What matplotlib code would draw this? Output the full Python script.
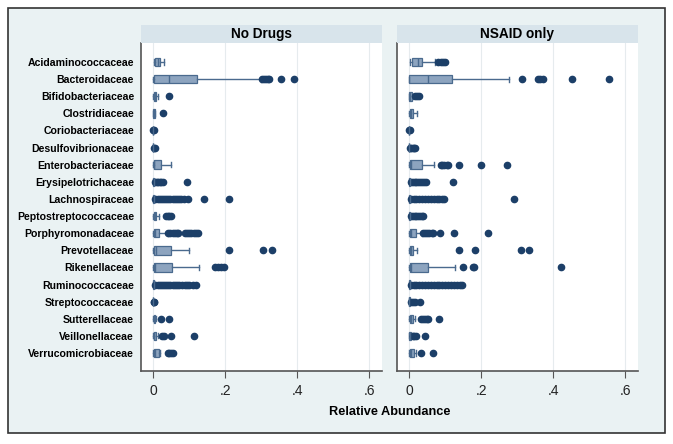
import matplotlib
matplotlib.use("Agg")
import matplotlib.pyplot as plt
from matplotlib.patches import Rectangle

plt.rcParams["font.family"] = ["Liberation Sans", "DejaVu Sans"]

categories = [
    "Acidaminococcaceae", "Bacteroidaceae", "Bifidobacteriaceae", "Clostridiaceae",
    "Coriobacteriaceae", "Desulfovibrionaceae", "Enterobacteriaceae",
    "Erysipelotrichaceae", "Lachnospiraceae", "Peptostreptococcaceae",
    "Porphyromonadaceae", "Prevotellaceae", "Rikenellaceae", "Ruminococcaceae",
    "Streptococcaceae", "Sutterellaceae", "Veillonellaceae", "Verrucomicrobiaceae",
]
panels = ["No Drugs", "NSAID only"]

# No Drugs: lower whisker, q1, median, q3, upper whisker, outliers
nd_wlo = [0.001, 0, 0, 0, 0, 0, 0, 0, 0, 0, 0, 0, 0, 0, 0, 0, 0, 0]
nd_q1 = [0.005, 0.003, 0.001, 0.0005, 0, 0, 0.001, 0, 0, 0.001, 0.001, 0.003, 0.003, 0, 0, 0.001, 0.001, 0.001]
nd_med = [0.012, 0.044, 0.004, 0.002, 0, 0, 0.003, 0.001, 0.001, 0.004, 0.005, 0.008, 0.005, 0.001, 0, 0.002, 0.002, 0.004]
nd_q3 = [0.018, 0.123, 0.008, 0.004, 0, 0, 0.021, 0.002, 0.002, 0.008, 0.016, 0.05, 0.053, 0.002, 0, 0.005, 0.008, 0.015]
nd_whi = [0.030, 0.300, 0.012, 0.006, 0, 0, 0.049, 0.004, 0.004, 0.015, 0.040, 0.100, 0.128, 0.004, 0, 0.008, 0.012, 0.018]
nd_out = [
    [],
    [0.302, 0.308, 0.313, 0.318, 0.323, 0.355, 0.392],
    [0.045],
    [0.027],
    [0.0, 0.001],
    [0.002, 0.004],
    [],
    [0.006, 0.010, 0.014, 0.018, 0.022, 0.026, 0.094],
    [0.006, 0.012, 0.018, 0.024, 0.030, 0.036, 0.042, 0.048, 0.054, 0.060,
     0.066, 0.072, 0.078, 0.086, 0.097, 0.142, 0.212],
    [0.035, 0.040, 0.045, 0.050],
    [0.042, 0.048, 0.054, 0.060, 0.066, 0.070, 0.087, 0.093, 0.100, 0.106,
     0.112, 0.118, 0.124],
    [0.211, 0.306, 0.329],
    [0.172, 0.180, 0.188, 0.197],
    [0.006, 0.012, 0.018, 0.024, 0.030, 0.036, 0.042, 0.048, 0.054, 0.060,
     0.066, 0.072, 0.080, 0.088, 0.094, 0.100, 0.110, 0.120],
    [0.001, 0.003],
    [0.021, 0.044],
    [0.025, 0.030, 0.050, 0.114],
    [0.040, 0.045, 0.050, 0.055],
]

# NSAID only
ns_wlo = [0.002, 0, 0, 0, 0, 0, 0, 0, 0, 0, 0, 0, 0, 0, 0, 0, 0, 0]
ns_q1 = [0.008, 0.0, 0, 0.001, 0, 0, 0.001, 0, 0, 0, 0.001, 0.001, 0.001, 0, 0, 0.001, 0, 0.001]
ns_med = [0.025, 0.053, 0.003, 0.004, 0, 0, 0.006, 0.001, 0.001, 0.001, 0.005, 0.004, 0.004, 0.001, 0, 0.004, 0.002, 0.004]
ns_q3 = [0.036, 0.120, 0.008, 0.010, 0, 0, 0.036, 0.002, 0.002, 0.002, 0.018, 0.010, 0.053, 0.002, 0.001, 0.010, 0.005, 0.013]
ns_whi = [0.073, 0.276, 0.010, 0.021, 0, 0, 0.068, 0.003, 0.003, 0.003, 0.036, 0.022, 0.126, 0.003, 0.002, 0.016, 0.008, 0.018]
ns_out = [
    [0.081, 0.087, 0.093, 0.100],
    [0.313, 0.357, 0.364, 0.371, 0.452, 0.555],
    [0.016, 0.021, 0.027],
    [],
    [0.0, 0.001],
    [0.002, 0.006, 0.010, 0.014, 0.016],
    [0.087, 0.092, 0.098, 0.104, 0.109, 0.137, 0.200, 0.273],
    [0.005, 0.010, 0.015, 0.020, 0.025, 0.030, 0.035, 0.040, 0.047, 0.122],
    [0.005, 0.012, 0.020, 0.028, 0.036, 0.044, 0.052, 0.060, 0.068, 0.076,
     0.084, 0.091, 0.097, 0.290],
    [0.005, 0.010, 0.015, 0.020, 0.025, 0.030, 0.035, 0.039],
    [0.038, 0.044, 0.050, 0.056, 0.062, 0.067, 0.085, 0.124, 0.219],
    [0.138, 0.183, 0.311, 0.332],
    [0.150, 0.176, 0.181, 0.423],
    [0.005, 0.012, 0.020, 0.028, 0.036, 0.044, 0.052, 0.060, 0.068, 0.076,
     0.084, 0.092, 0.100, 0.108, 0.116, 0.124, 0.132, 0.140, 0.148],
    [0.004, 0.010, 0.016, 0.030],
    [0.032, 0.038, 0.044, 0.050, 0.053, 0.083],
    [0.010, 0.014, 0.018, 0.043],
    [0.032, 0.067],
]

x_ticks = [0, 0.2, 0.4, 0.6]
x_tick_labels = ["0", ".2", ".4", ".6"]

BG = "#eaf2f3"
STRIP = "#d8e4eb"
BOX_FACE = "#8da4bf"
BOX_EDGE = "#4a6a8e"
DOT = "#1c3f68"
AXIS = "#555555"

W, H = 673, 444
fig = plt.figure(figsize=(W / 100, H / 100), dpi=100, facecolor="white")
fig.patches.append(Rectangle((8 / W, 1 - 433 / H), 657 / W, 425 / H,
                             transform=fig.transFigure, facecolor=BG,
                             edgecolor="#333333", linewidth=1.2, zorder=-1))

panel_x = [141, 397]
panel_w = 241
top, bottom = 43, 371

data = [
    (nd_wlo, nd_q1, nd_med, nd_q3, nd_whi, nd_out),
    (ns_wlo, ns_q1, ns_med, ns_q3, ns_whi, ns_out),
]

n = len(categories)
for i, (name, (wlo, q1, med, q3, whi, out)) in enumerate(zip(panels, data)):
    x0 = panel_x[i]
    ax = fig.add_axes([x0 / W, 1 - bottom / H, panel_w / W, (bottom - top) / H])
    ax.set_facecolor("white")

    stats = []
    for k in range(n):
        stats.append(dict(whislo=wlo[k], q1=q1[k], med=med[k], q3=q3[k],
                          whishi=whi[k], fliers=out[k]))
    ax.bxp(stats, positions=range(n), orientation="horizontal", widths=0.5,
           patch_artist=True, capwidths=0.3,
           boxprops=dict(facecolor=BOX_FACE, edgecolor=BOX_EDGE, linewidth=0.9),
           medianprops=dict(color=BOX_EDGE, linewidth=1.0),
           whiskerprops=dict(color=BOX_EDGE, linewidth=1.0),
           capprops=dict(color=BOX_EDGE, linewidth=1.0),
           flierprops=dict(marker="o", markersize=4.5, markerfacecolor=DOT,
                           markeredgecolor=DOT, linestyle="none"))

    ax.set_xlim(-0.034, 0.636)
    ax.set_ylim(n - 1 + 1.05, -1.11)
    ax.set_xticks(x_ticks)
    ax.set_xticklabels(x_tick_labels)
    ax.grid(axis="x", color="#e6ebee", linewidth=0.8)
    ax.set_axisbelow(True)
    ax.tick_params(axis="x", length=5, width=0.8, color=AXIS, labelsize=10,
                   pad=4, labelcolor="#222222")
    ax.set_yticks(range(n))
    if i == 0:
        ax.set_yticklabels(categories, fontweight="bold", fontsize=7.6)
        ax.tick_params(axis="y", length=0, pad=5)
    else:
        ax.set_yticklabels([])
        ax.tick_params(axis="y", length=0)
    for s in ["top", "right"]:
        ax.spines[s].set_visible(False)
    for s in ["left", "bottom"]:
        ax.spines[s].set_color(AXIS)
        ax.spines[s].set_linewidth(1.2)

    # title strip
    sax = fig.add_axes([x0 / W, 1 - top / H, panel_w / W, 18 / H])
    sax.set_facecolor(STRIP)
    sax.set_xticks([])
    sax.set_yticks([])
    for s in sax.spines.values():
        s.set_visible(False)
    sax.text(0.5, 0.5, name, ha="center", va="center", fontsize=9.8,
             fontweight="bold", transform=sax.transAxes)

fig.text((141 + 638) / 2 / W, 1 - 412 / H, "Relative Abundance", ha="center",
         va="center", fontsize=9.2, fontweight="bold")

fig.savefig("out.png", dpi=100, facecolor="white")
